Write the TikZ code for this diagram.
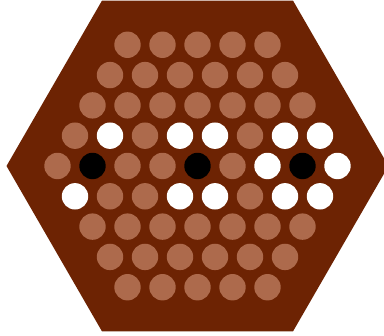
\documentclass[tikz,border=0pt]{standalone}
\definecolor{board}{RGB}{109,35,3}
\definecolor{hole}{RGB}{173,106,76}
\tikzset{
  peg/.style={circle, inner sep=0pt, minimum size=26.4pt, draw=none},
  pL/.style={peg, fill=hole},
  pW/.style={peg, fill=white},
  pB/.style={peg, fill=black}
}
\begin{document}
\begin{tikzpicture}[x=1pt,y=-1pt]
\useasboundingbox (0,0) rectangle (384,336);
\clip (0,0) rectangle (384,336);
\fill[white] (0,0) rectangle (384,336);
\fill[board] (6.5,166) -- (102,0.6) -- (293,0.6) -- (388.5,166) -- (293,331.4) -- (102,331.4) -- cycle;
\foreach \r/\lst in {
  -4/{pL,pL,pL,pL,pL},
  -3/{pL,pL,pL,pL,pL,pL},
  -2/{pL,pL,pL,pL,pL,pL,pL},
  -1/{pL,pW,pL,pW,pW,pL,pW,pW},
   0/{pL,pB,pL,pL,pB,pL,pW,pB,pW},
   1/{pW,pL,pL,pW,pW,pL,pW,pW},
   2/{pL,pL,pL,pL,pL,pL,pL},
   3/{pL,pL,pL,pL,pL,pL},
   4/{pL,pL,pL,pL,pL}}{
  \pgfmathtruncatemacro\n{9-abs(\r)}
  \foreach \s [count=\j from 0] in \lst {
    \pgfmathsetmacro\xx{197.5+35*(\j-(\n-1)/2)}
    \pgfmathsetmacro\yy{166+30.31*\r}
    \node[\s] (c\r-\j) at (\xx,\yy) {};
  }
}
\end{tikzpicture}
\end{document}
